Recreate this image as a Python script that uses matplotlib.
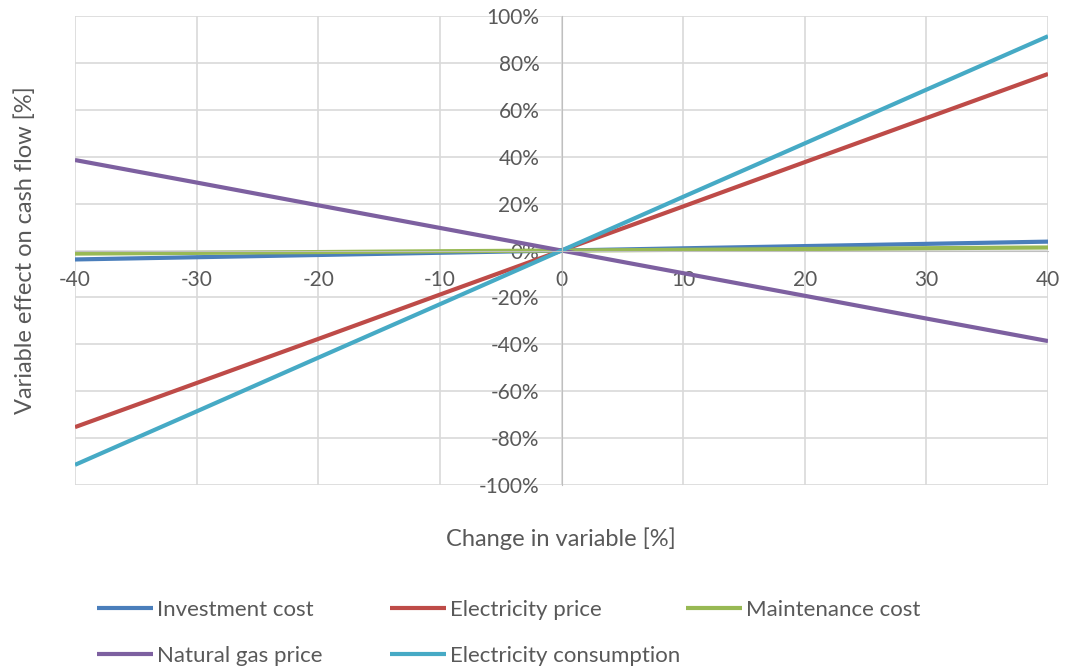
import matplotlib.pyplot as plt
from matplotlib.ticker import FuncFormatter

plt.rcParams['font.family'] = ['Lato', 'DejaVu Sans']
plt.rcParams['axes.unicode_minus'] = False

# change in variable [%]
change = [-40, -30, -20, -10, 0, 10, 20, 30, 40]

# effect on cash flow [%]
investment_cost = [-3.8, -2.85, -1.9, -0.95, 0, 0.95, 1.9, 2.85, 3.8]
electricity_price = [-75.3, -56.5, -37.7, -18.8, 0, 18.8, 37.7, 56.5, 75.3]
maintenance_cost = [-1.3, -1.0, -0.65, -0.3, 0, 0.3, 0.65, 1.0, 1.3]
natural_gas_price = [38.6, 29.0, 19.3, 9.65, 0, -9.65, -19.3, -29.0, -38.6]
electricity_consumption = [-91.4, -68.6, -45.7, -22.9, 0, 22.9, 45.7, 68.6, 91.4]

series = [
    ("Investment cost", investment_cost, "#4a7ebb"),
    ("Electricity price", electricity_price, "#be4b48"),
    ("Maintenance cost", maintenance_cost, "#98b954"),
    ("Natural gas price", natural_gas_price, "#7d60a0"),
    ("Electricity consumption", electricity_consumption, "#46aac5"),
]

txt = "#595959"

fig = plt.figure(figsize=(10.68, 6.69), dpi=100)
ax = fig.add_axes([0.0702, 0.275, 0.9111, 0.701])

lines = {}
for name, vals, col in series:
    l, = ax.plot(change, vals, color=col, lw=3, label=name, solid_capstyle='butt')
    lines[name] = l

ax.set_xlim(-40, 40)
ax.set_ylim(-100, 100)
ax.set_xticks(range(-40, 41, 10))
ax.set_yticks(range(-100, 101, 20))
ax.yaxis.set_major_formatter(FuncFormatter(lambda v, p: "%d%%" % v))
ax.xaxis.set_major_formatter(FuncFormatter(lambda v, p: "%d" % v))

ax.grid(True, color="#d9d9d9", lw=1.2)
ax.set_axisbelow(True)

# axes cross at zero like in excel
ax.spines['left'].set_position(('data', 0))
ax.spines['bottom'].set_position(('data', 0))
ax.spines['left'].set_color("#bfbfbf")
ax.spines['bottom'].set_color("#bfbfbf")
ax.spines['right'].set_visible(False)
ax.spines['top'].set_visible(False)
ax.tick_params(length=0, labelsize=15, labelcolor=txt)
ax.tick_params(axis='y', pad=16)
ax.tick_params(axis='x', pad=14)

fig.text(0.024, 0.626, "Variable effect on cash flow [%]", rotation=90,
         ha='center', va='center', fontsize=17, color=txt)
fig.text(0.525, 0.195, "Change in variable [%]", ha='center', va='center',
         fontsize=17, color=txt)

# excel legend: fixed column positions, so one legend per column
cols = [
    (97, ["Investment cost", "Natural gas price"]),
    (390, ["Electricity price", "Electricity consumption"]),
    (686, ["Maintenance cost"]),
]
for xpx, names in cols:
    leg = fig.legend([lines[n] for n in names], names, loc='upper left',
                     bbox_to_anchor=(xpx / 1068, 1 - 600 / 669), frameon=False,
                     fontsize=16, labelcolor=txt, handlelength=2.5,
                     handletextpad=0.2, labelspacing=1.17, borderpad=0,
                     borderaxespad=0)

fig.savefig("out.png", dpi=100)
